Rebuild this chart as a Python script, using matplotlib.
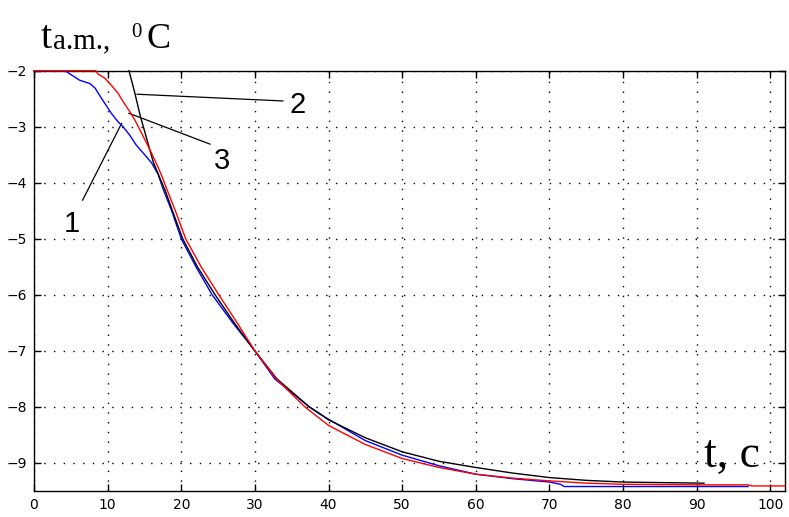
import matplotlib
matplotlib.use("Agg")
import matplotlib.pyplot as plt

# curve 1 (blue)
t1 = [0, 4.2, 6.2, 7.6, 8.3, 9.0, 9.6, 10.5, 11.4, 12.1, 13.0, 13.9, 15.1, 16.0, 16.9, 17.5,
      18.7, 20.0, 22.0, 24.2, 27.0, 30.0, 32.7, 37.4, 40, 45, 50, 55, 60, 65, 70, 71.5, 72,
      80, 90, 97]
T1 = [-2.0, -2.0, -2.17, -2.23, -2.31, -2.46, -2.58, -2.76, -2.91, -3.0, -3.15, -3.33, -3.51,
      -3.65, -3.86, -4.1, -4.5, -5.0, -5.5, -6.0, -6.5, -7.0, -7.5, -8.0, -8.22, -8.6, -8.86,
      -9.05, -9.2, -9.28, -9.34, -9.38, -9.42, -9.42, -9.42, -9.42]

# curve 2 (black)
t2 = [12.9, 13.7, 14.4, 15.3, 16.2, 17.1, 17.8, 18.8, 20.2, 22.2, 24.6, 27.2, 30.0, 33.0,
      37.4, 40, 45, 50, 55, 60, 65, 70, 75, 80, 85, 91]
T2 = [-2.0, -2.4, -2.79, -3.21, -3.63, -3.92, -4.13, -4.5, -5.0, -5.5, -6.0, -6.5, -7.0,
      -7.5, -8.0, -8.23, -8.55, -8.8, -8.97, -9.08, -9.18, -9.26, -9.31, -9.34, -9.35, -9.36]

# curve 3 (red)
t3 = [0, 8.4, 8.7, 9.6, 10.5, 11.4, 12.1, 13.0, 13.7, 14.4, 15.1, 16.0, 16.7, 17.3, 18.0,
      19.2, 20.6, 22.7, 25.1, 27.6, 30.0, 32.9, 36.8, 40, 45, 50, 55, 60, 65, 70, 75, 80, 90,
      97, 97.5, 102]
T3 = [-2.0, -2.0, -2.06, -2.13, -2.26, -2.4, -2.55, -2.73, -2.88, -3.06, -3.24, -3.48, -3.68,
      -3.86, -4.1, -4.5, -5.0, -5.5, -6.0, -6.5, -7.0, -7.5, -8.0, -8.33, -8.67, -8.92, -9.08,
      -9.2, -9.27, -9.32, -9.36, -9.38, -9.39, -9.39, -9.41, -9.41]

xticks = list(range(0, 101, 10))
yticks = [-9, -8, -7, -6, -5, -4, -3, -2]

W, H = 789, 517
fig = plt.figure(figsize=(W / 100, H / 100), dpi=100)
ax = fig.add_axes([34 / W, 26 / H, (785 - 34) / W, (446.3 - 26) / H])

ax.plot(t1, T1, color="blue", lw=1.0, zorder=3, clip_on=False)
ax.plot(t2, T2, color="black", lw=1.0, zorder=3, clip_on=False)
ax.plot(t3, T3, color="red", lw=1.0, zorder=3.1, clip_on=False)

ax.set_xlim(0, 102)
ax.set_ylim(-9.5, -2)
ax.set_xticks(xticks)
ax.set_yticks(yticks)
ax.grid(True, color="black", linestyle=(0, (1, 6)), linewidth=1.0)
ax.tick_params(direction="in", length=5, top=True, right=True, labelsize=10, pad=5,
               width=1.0)
for lab in ax.get_xticklabels() + ax.get_yticklabels():
    lab.set_family(["Liberation Sans Narrow", "DejaVu Sans"])
for s in ax.spines.values():
    s.set_linewidth(1.0)

# leader lines and curve numbers
ax.plot([14.0, 33.8], [-2.42, -2.54], color="black", lw=0.9)
ax.plot([12.9, 23.9], [-2.76, -3.31], color="black", lw=0.9)
ax.plot([11.9, 6.6], [-2.94, -4.31], color="black", lw=0.9)
num_font = dict(fontsize=21, family="Liberation Sans", ha="center", va="center")
ax.text(35.8, -2.61, "2", **num_font)
ax.text(25.5, -3.61, "3", **num_font)
ax.text(5.2, -4.74, "1", **num_font)


def px(x, y):
    return x / W, 1 - y / H


serif = "Liberation Serif"
fig.text(*px(41, 48), "t", fontsize=29, family=serif, va="baseline")
fig.text(*px(53, 48), "a.m.,", fontsize=21, family=serif, va="baseline")
fig.text(*px(131, 37), "0", fontsize=15, family=serif, va="baseline")
fig.text(*px(146, 48), "C", fontsize=26, family=serif, va="baseline")
fig.text(*px(704, 467), "t, c", fontsize=33, family=serif, va="baseline")

fig.savefig("out.png", dpi=100)
